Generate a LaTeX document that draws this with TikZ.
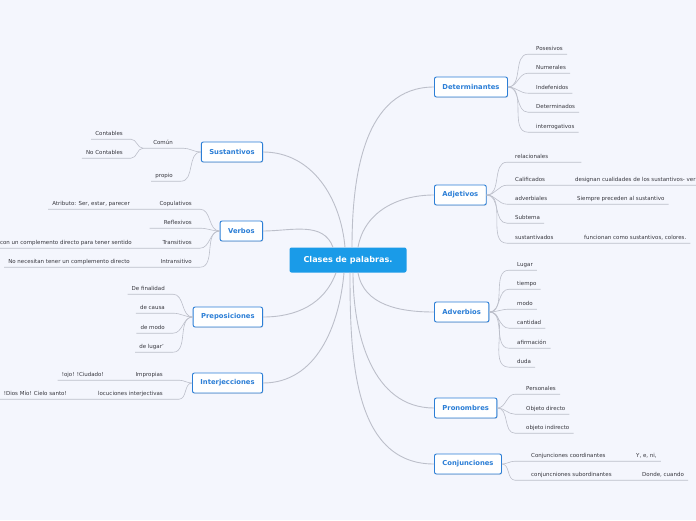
\documentclass[tikz,border=0pt]{standalone}
\usepackage{fontspec}
\setmainfont{DejaVu Sans}
\usepackage{xcolor}
\usepackage{tikz}
\usetikzlibrary{positioning,shadows}
\definecolor{mapbg}{RGB}{244,246,253}
\definecolor{mapblue}{RGB}{26,155,232}
\definecolor{topicblue}{RGB}{43,126,214}
\definecolor{leaftext}{RGB}{55,55,62}
\definecolor{linkgray}{RGB}{188,191,202}

\begin{document}
\begin{tikzpicture}[x=1pt, y=1pt,
  root/.style={rectangle, rounded corners=2pt, fill=mapblue, text=white, font=\fontsize{8.1}{9}\selectfont\bfseries, minimum width=117pt, minimum height=25pt},
  topic/.style={rectangle, rounded corners=2pt, draw=topicblue, line width=0.9pt, fill=white, text=topicblue, font=\fontsize{6.8}{8}\selectfont\bfseries, minimum height=20pt, inner xsep=8pt, drop shadow={opacity=0.2, shadow xshift=0.6pt, shadow yshift=-0.8pt}},
  leaf/.style={font=\fontsize{5.5}{6}\selectfont, text=leaftext, inner xsep=4pt, inner ysep=0pt, text height=4pt, text depth=4pt},
  branch/.style={draw=linkgray, line width=0.9pt},
  twig/.style={draw=linkgray, line width=0.6pt}]

\clip (0,0) rectangle (696,-520);
\fill[mapbg] (0,0) rectangle (696,-520);

% main topics
\node[root] (root) at (348,-260) {Clases de palabras.};
\node[topic, anchor=west] (det) at (434,-87) {Determinantes};
\node[topic, anchor=west] (adj) at (434,-195) {Adjetivos};
\node[topic, anchor=west] (adv) at (434,-312) {Adverbios};
\node[topic, anchor=west] (pron) at (434,-408) {Pronombres};
\node[topic, anchor=west] (conj) at (434,-464) {Conjunciones};
\node[topic, anchor=east] (sust) at (263,-152) {Sustantivos};
\node[topic, anchor=east] (verb) at (263,-231) {Verbos};
\node[topic, anchor=east] (prep) at (263,-317) {Preposiciones};
\node[topic, anchor=east] (interj) at (263,-383) {Interjecciones};

\draw[branch] ([xshift=4pt]root.north) to[out=90,in=180] (det.west);
\draw[branch] ([xshift=10pt]root.north) to[out=80,in=180] (adj.west);
\draw[branch] ([xshift=10pt]root.south) to[out=-80,in=180] (adv.west);
\draw[branch] ([xshift=5pt]root.south) to[out=-90,in=180] (pron.west);
\draw[branch] ([xshift=2pt]root.south) to[out=-90,in=180] (conj.west);
\draw[branch] ([xshift=-3pt]root.north) to[out=95,in=0] (sust.east);
\draw[branch] ([xshift=-15pt]root.north) to[out=110,in=0] (verb.east);
\draw[branch] ([xshift=-12pt]root.south) to[out=-110,in=0] (prep.east);
\draw[branch] ([xshift=-4pt]root.south) to[out=-95,in=0] (interj.east);

% Determinantes
\node[leaf, anchor=west] (pos) at (532,-50) {Posesivos};
\node[leaf, anchor=west] (num) at (532,-69) {Numerales};
\node[leaf, anchor=west] (indef) at (532,-89) {Indefenidos};
\node[leaf, anchor=west] (detm) at (532,-108) {Determinados};
\node[leaf, anchor=west] (interr) at (532,-128) {interrogativos};
\draw[twig] (det.east) to[out=0,in=180] ([xshift=-4pt]pos.south west) -- (pos.south east);
\draw[twig] (det.east) to[out=0,in=180] ([xshift=-4pt]num.south west) -- (num.south east);
\draw[twig] (det.east) to[out=0,in=180] ([xshift=-4pt]indef.south west) -- (indef.south east);
\draw[twig] (det.east) to[out=0,in=180] ([xshift=-4pt]detm.south west) -- (detm.south east);
\draw[twig] (det.east) to[out=0,in=180] ([xshift=-4pt]interr.south west) -- (interr.south east);

% Adjetivos
\node[leaf, anchor=west] (rel) at (511,-158) {relacionales};
\node[leaf, anchor=west] (calif) at (511,-181) {Calificados};
\node[leaf, anchor=west] (califx) at (571,-181) {designan cualidades de los sustantivos- ver};
\node[leaf, anchor=west] (advb) at (511,-200) {adverbiales};
\node[leaf, anchor=west] (advbx) at (573,-200) {Siempre preceden al sustantivo};
\node[leaf, anchor=west] (subt) at (511,-219) {Subtema};
\node[leaf, anchor=west] (susv) at (511,-239) {sustantivados};
\node[leaf, anchor=west] (susvx) at (580,-239) {funcionan como sustantivos, colores.};
\draw[twig] (adj.east) to[out=0,in=180] ([xshift=-4pt]rel.south west) -- ([xshift=29pt]rel.south east);
\draw[twig] (adj.east) to[out=0,in=180] ([xshift=-4pt]calif.south west) -- (califx.south east);
\draw[twig] (adj.east) to[out=0,in=180] ([xshift=-4pt]advb.south west) -- (advbx.south east);
\draw[twig] (adj.east) to[out=0,in=180] ([xshift=-4pt]subt.south west) -- (subt.south east);
\draw[twig] (adj.east) to[out=0,in=180] ([xshift=-4pt]susv.south west) -- (susvx.south east);

% Adverbios
\node[leaf, anchor=west] (lug) at (513,-266) {Lugar};
\node[leaf, anchor=west] (tiem) at (513,-285) {tiempo};
\node[leaf, anchor=west] (mod) at (513,-305) {modo};
\node[leaf, anchor=west] (cant) at (513,-324) {cantidad};
\node[leaf, anchor=west] (afir) at (513,-344) {afirmación};
\node[leaf, anchor=west] (dud) at (513,-363) {duda};
\draw[twig] (adv.east) to[out=0,in=180] ([xshift=-4pt]lug.south west) -- (lug.south east);
\draw[twig] (adv.east) to[out=0,in=180] ([xshift=-4pt]tiem.south west) -- (tiem.south east);
\draw[twig] (adv.east) to[out=0,in=180] ([xshift=-4pt]mod.south west) -- (mod.south east);
\draw[twig] (adv.east) to[out=0,in=180] ([xshift=-4pt]cant.south west) -- (cant.south east);
\draw[twig] (adv.east) to[out=0,in=180] ([xshift=-4pt]afir.south west) -- (afir.south east);
\draw[twig] (adv.east) to[out=0,in=180] ([xshift=-4pt]dud.south west) -- (dud.south east);

% Pronombres
\node[leaf, anchor=west] (pers) at (522,-390) {Personales};
\node[leaf, anchor=west] (objd) at (522,-410) {Objeto directo};
\node[leaf, anchor=west] (obji) at (522,-429) {objeto indirecto};
\draw[twig] (pron.east) to[out=0,in=180] ([xshift=-7pt]pers.south west) -- (pers.south east);
\draw[twig] (pron.east) to[out=0,in=180] ([xshift=-7pt]objd.south west) -- (objd.south east);
\draw[twig] (pron.east) to[out=0,in=180] ([xshift=-7pt]obji.south west) -- (obji.south east);

% Conjunciones
\node[leaf, anchor=west] (coord) at (527,-457) {Conjunciones coordinantes};
\node[leaf, anchor=west] (coordx) at (632,-457) {Y, e, ni,};
\node[leaf, anchor=west] (subord) at (527,-476) {conjuncniones subordinantes};
\node[leaf, anchor=west] (subordx) at (638,-476) {Donde, cuando};
\draw[twig] (conj.east) to[out=0,in=180] ([xshift=-12pt]coord.south west) -- (coordx.south east);
\draw[twig] (conj.east) to[out=0,in=180] ([xshift=-12pt]subord.south west) -- (subordx.south east);

% Sustantivos
\node[leaf, anchor=east, inner xsep=10pt] (comun) at (183,-144) {Común};
\node[leaf, anchor=east] (cont) at (127,-135) {Contables};
\node[leaf, anchor=east] (nocont) at (127,-154) {No Contables};
\node[leaf, anchor=east] (prop) at (177,-177) {propio};
\draw[twig] (sust.west) to[out=180,in=0] (comun.south east) -- (comun.south west);
\draw[twig] (comun.south west) to[out=180,in=0] ([xshift=4pt]cont.south east) -- (cont.south west);
\draw[twig] (comun.south west) to[out=180,in=0] ([xshift=4pt]nocont.south east) -- (nocont.south west);
\draw[twig] (sust.west) to[out=180,in=0] ([xshift=4pt]prop.south east) -- (prop.south west);

% Verbos
\node[leaf, anchor=east] (copul) at (196,-205) {Copulativos};
\node[leaf, anchor=east] (copulx) at (134,-205) {Atributo: Ser, estar, parecer};
\node[leaf, anchor=east] (refl) at (196,-224) {Reflexivos};
\node[leaf, anchor=east] (trans) at (196,-244) {Transitivos};
\node[leaf, anchor=east] (transx) at (136,-244) {con un complemento directo para tener sentido};
\node[leaf, anchor=east] (intr) at (196,-263) {Intransitivo};
\node[leaf, anchor=east] (intrx) at (134,-263) {No necesitan tener un complemento directo};
\draw[twig] (verb.west) to[out=180,in=0] ([xshift=4pt]copul.south east) -- (copulx.south west);
\draw[twig] (verb.west) to[out=180,in=0] ([xshift=4pt]refl.south east) -- ([xshift=-10pt]refl.south west);
\draw[twig] (verb.west) to[out=180,in=0] ([xshift=4pt]trans.south east) -- (transx.south west);
\draw[twig] (verb.west) to[out=180,in=0] ([xshift=4pt]intr.south east) -- (intrx.south west);

% Preposiciones
\node[leaf, anchor=east] (final) at (169,-290) {De finalidad};
\node[leaf, anchor=east] (causa) at (169,-309) {de causa};
\node[leaf, anchor=east] (modo) at (169,-329) {de modo};
\node[leaf, anchor=east] (lugar) at (168,-348) {de lugar'};
\draw[twig] (prep.west) to[out=180,in=0] ([xshift=4pt]final.south east) -- (final.south west);
\draw[twig] (prep.west) to[out=180,in=0] ([xshift=4pt]causa.south east) -- (causa.south west);
\draw[twig] (prep.west) to[out=180,in=0] ([xshift=4pt]modo.south east) -- (modo.south west);
\draw[twig] (prep.west) to[out=180,in=0] ([xshift=5pt]lugar.south east) -- (lugar.south west);

% Interjecciones
\node[leaf, anchor=east] (impro) at (167,-376) {Impropias};
\node[leaf, anchor=east] (improx) at (108,-376) {!ojo! !Ciudado!};
\node[leaf, anchor=east] (locu) at (167,-395) {locuciones interjectivas};
\node[leaf, anchor=east] (locux) at (71,-395) {!Dios Mío! Cielo santo!};
\draw[twig] (interj.west) to[out=180,in=0] ([xshift=12pt]impro.south east) -- (improx.south west);
\draw[twig] (interj.west) to[out=180,in=0] ([xshift=12pt]locu.south east) -- (locux.south west);
\end{tikzpicture}
\end{document}
